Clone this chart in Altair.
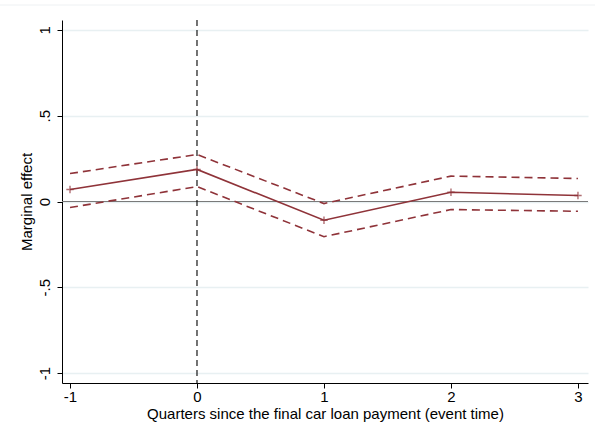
import altair as alt
import pandas as pd

# Event-study estimates with 95% confidence bounds
quarters = [-1, 0, 1, 2, 3]
estimate = [0.070, 0.187, -0.109, 0.054, 0.035]
upper = [0.163, 0.274, -0.012, 0.148, 0.134]
lower = [-0.035, 0.087, -0.205, -0.047, -0.057]

y_ticks = [-1, -0.5, 0, 0.5, 1]
x_ticks = [-1, 0, 1, 2, 3]

df = pd.DataFrame({"q": quarters, "est": estimate, "hi": upper, "lo": lower})

RED = "#8f3339"
FONT = "Liberation Sans"

xs = alt.Scale(domain=[-1.063, 3.079], nice=False, zero=False)
ys = alt.Scale(domain=[-1.058, 1.058], nice=False, zero=False)

x_enc = alt.X(
    "q:Q", scale=xs,
    axis=alt.Axis(values=x_ticks, labelExpr="'' + datum.value",
                  title="Quarters since the final car loan payment (event time)",
                  grid=False, labelFontSize=15, titleFontSize=15, labelFont=FONT, titleFont=FONT,
                  domainColor="#000", tickColor="#000", tickSize=5, labelPadding=1,
                  titlePadding=2, labelColor="#000", titleColor="#000", titleFontWeight="normal",
                  labelFlush=False),
)
y_axis = alt.Axis(
    values=y_ticks, title="Marginal effect", grid=True, gridColor="#e8f0f2", gridWidth=1.5,
    labelAngle=-90, labelAlign="center", labelBaseline="bottom", labelFontSize=15,
    labelFont=FONT, titleFont=FONT, titleFontSize=15, titleFontWeight="normal",
    labelExpr="datum.value == 0.5 ? '.5' : datum.value == -0.5 ? '-.5' : datum.value == 1 ? '1' : datum.value == -1 ? '-1' : '0'",
    domainColor="#000", tickColor="#000", tickSize=5, labelPadding=5, titlePadding=3,
    labelColor="#000", titleColor="#000",
)

base = alt.Chart(df)

est_line = base.mark_line(color=RED, strokeWidth=1.6).encode(
    x=x_enc, y=alt.Y("est:Q", scale=ys, axis=y_axis)
)
hi_line = base.mark_line(color=RED, strokeWidth=1.6, strokeDash=[8, 5]).encode(
    x="q:Q", y="hi:Q"
)
lo_line = base.mark_line(color=RED, strokeWidth=1.6, strokeDash=[8, 5]).encode(
    x="q:Q", y="lo:Q"
)
markers = base.mark_point(
    shape="M-1,0H1M0,-1V1", size=55, color=RED, strokeWidth=1.4, filled=False
).encode(x="q:Q", y="est:Q")

zero_df = pd.DataFrame({"y": [0]})
zero_rule = alt.Chart(zero_df).mark_rule(color="#7a7a7a", strokeWidth=1.2).encode(y="y:Q")

event_df = pd.DataFrame({"x": [0]})
event_rule = alt.Chart(event_df).mark_rule(color="#000", strokeWidth=1.1, strokeDash=[6, 4]).encode(x="x:Q")

border = alt.Chart(zero_df).mark_rule(color="#eef1f3", strokeWidth=1).encode(
    x=alt.value(-62), x2=alt.value(533), y=alt.value(-15)
)

chart = (
    alt.layer(zero_rule, event_rule, hi_line, lo_line, est_line, markers, border)
    .properties(width=526, height=363, autosize=alt.AutoSizeParams(type="none"),
                padding={"left": 62, "top": 20, "right": 7, "bottom": 50},
                background="white")
    .configure_view(stroke=None)
)

chart.save("out.html", embed_options={"renderer": "svg", "actions": False})
